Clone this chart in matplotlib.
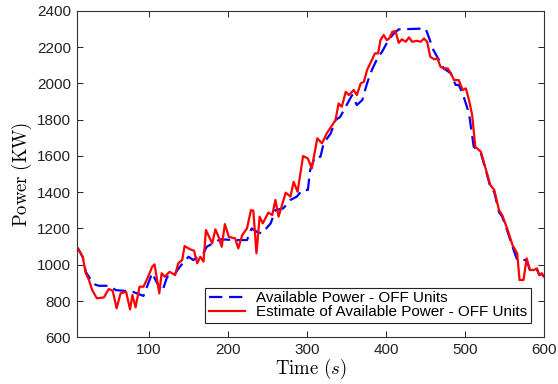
import numpy as np
import matplotlib
matplotlib.use('Agg')
import matplotlib.pyplot as plt

# Available power - OFF units (blue dashed)
t_avail = np.array([10, 16, 20, 26, 32, 37, 50, 58, 72, 80, 93, 104, 110, 117, 123, 131, 139, 150,
                    156, 169, 173, 181, 190, 210, 224, 230, 237, 243, 254, 260, 270, 279, 287, 294,
                    301, 304, 310, 317, 321, 330, 336, 342, 349, 357, 363, 370, 376, 382, 389, 395,
                    403, 410, 416, 437, 450, 454, 460, 467, 473, 482, 488, 492, 497, 505, 511, 520,
                    526, 532, 537, 543, 547, 554, 560, 566, 578, 582, 587, 591, 594, 597, 600])
p_avail = np.array([1090, 1044, 960, 920, 890, 884, 884, 860, 855, 850, 828, 954, 900, 855, 934, 938,
                    989, 1044, 1026, 1064, 1099, 1118, 1140, 1136, 1136, 1200, 1180, 1173, 1228, 1301,
                    1311, 1357, 1375, 1412, 1412, 1522, 1595, 1595, 1669, 1724, 1797, 1815, 1871, 1935,
                    1880, 1908, 2000, 2073, 2137, 2174, 2238, 2275, 2297, 2300, 2302, 2256, 2183, 2128,
                    2082, 2055, 1991, 1991, 1944, 1834, 1650, 1615, 1525, 1430, 1400, 1290, 1265, 1180,
                    1100, 1026, 1026, 971, 971, 975, 943, 950, 934])

# Estimate of available power - OFF units (red)
t_est = np.array([10, 16, 20, 24, 28, 34, 43, 49, 54, 59, 64, 71, 76, 79, 83, 88, 93, 98, 104, 107,
                  113, 116, 120, 126, 133, 137, 142, 145, 152, 157, 161, 165, 169, 172, 180, 184,
                  188, 192, 196, 201, 209, 213, 218, 224, 229, 232, 236, 240, 244, 251, 256, 260,
                  264, 273, 279, 283, 288, 295, 301, 306, 313, 319, 325, 332, 336, 340, 344, 349,
                  353, 359, 363, 368, 372, 376, 382, 386, 390, 393, 397, 401, 404, 408, 412, 416,
                  420, 425, 429, 433, 439, 444, 448, 452, 456, 461, 465, 469, 473, 478, 482, 486,
                  492, 497, 501, 505, 509, 513, 520, 526, 532, 537, 543, 547, 554, 560, 566, 569,
                  574, 578, 582, 587, 591, 594, 597, 600])
p_est = np.array([1090, 1044, 953, 916, 861, 815, 820, 866, 857, 760, 842, 851, 754, 833, 765, 879,
                  879, 925, 989, 1002, 842, 953, 934, 961, 943, 1008, 1026, 1103, 1085, 1077, 1008,
                  1044, 1017, 1191, 1118, 1195, 1154, 1099, 1224, 1154, 1145, 1090, 1164, 1200, 1301,
                  1298, 1063, 1265, 1228, 1287, 1274, 1357, 1265, 1397, 1375, 1457, 1402, 1599, 1586,
                  1531, 1697, 1669, 1724, 1770, 1797, 1889, 1871, 1953, 1935, 1963, 1935, 2000, 2008,
                  2073, 2128, 2165, 2165, 2238, 2266, 2238, 2247, 2284, 2288, 2223, 2242, 2229, 2253,
                  2229, 2234, 2229, 2247, 2229, 2146, 2132, 2137, 2091, 2082, 2082, 2055, 2018, 2018,
                  1963, 1972, 1908, 1825, 1650, 1623, 1531, 1439, 1412, 1301, 1274, 1191, 1109, 1063,
                  916, 916, 1035, 971, 971, 980, 943, 953, 934])

x_ticks = [100, 200, 300, 400, 500, 600]
y_ticks = np.arange(600, 2401, 200)

plt.rc('font', family=['Liberation Sans', 'DejaVu Sans'], size=11)
plt.rc('mathtext', fontset='cm')

fig = plt.figure(figsize=(5.58, 3.84), dpi=100)
ax = fig.add_axes([0.1375, 0.1216, 0.8375, 0.8505])

ax.plot(t_avail, p_avail, color='#0000ff', lw=1.6, dashes=(6, 3), label='Available Power - OFF Units')
ax.plot(t_est, p_est, color='#ff0000', lw=1.6, label='Estimate of Available Power - OFF Units')

ax.set_xlim(8.5, 600)
ax.set_ylim(600, 2400)
ax.set_xticks(x_ticks)
ax.set_yticks(y_ticks)
ax.tick_params(direction='in', top=True, right=True, length=4, width=0.7, colors='#222222', pad=4)
for s in ax.spines.values():
    s.set_linewidth(0.8)
    s.set_color('#333333')

ax.set_xlabel(r'$\mathrm{Time}\ (s)$', fontsize=13.5, labelpad=0)
ax.set_ylabel(r'$\mathrm{Power\ (KW)}$', fontsize=13.5, labelpad=2)

leg = ax.legend(loc='lower right', bbox_to_anchor=(0.972, 0.043), fancybox=False, framealpha=1,
                edgecolor='#222222', borderpad=0.25, labelspacing=0.0, handlelength=2.4,
                handletextpad=0.7, borderaxespad=0)
leg.get_frame().set_linewidth(0.8)

fig.savefig('out.png', dpi=100)
